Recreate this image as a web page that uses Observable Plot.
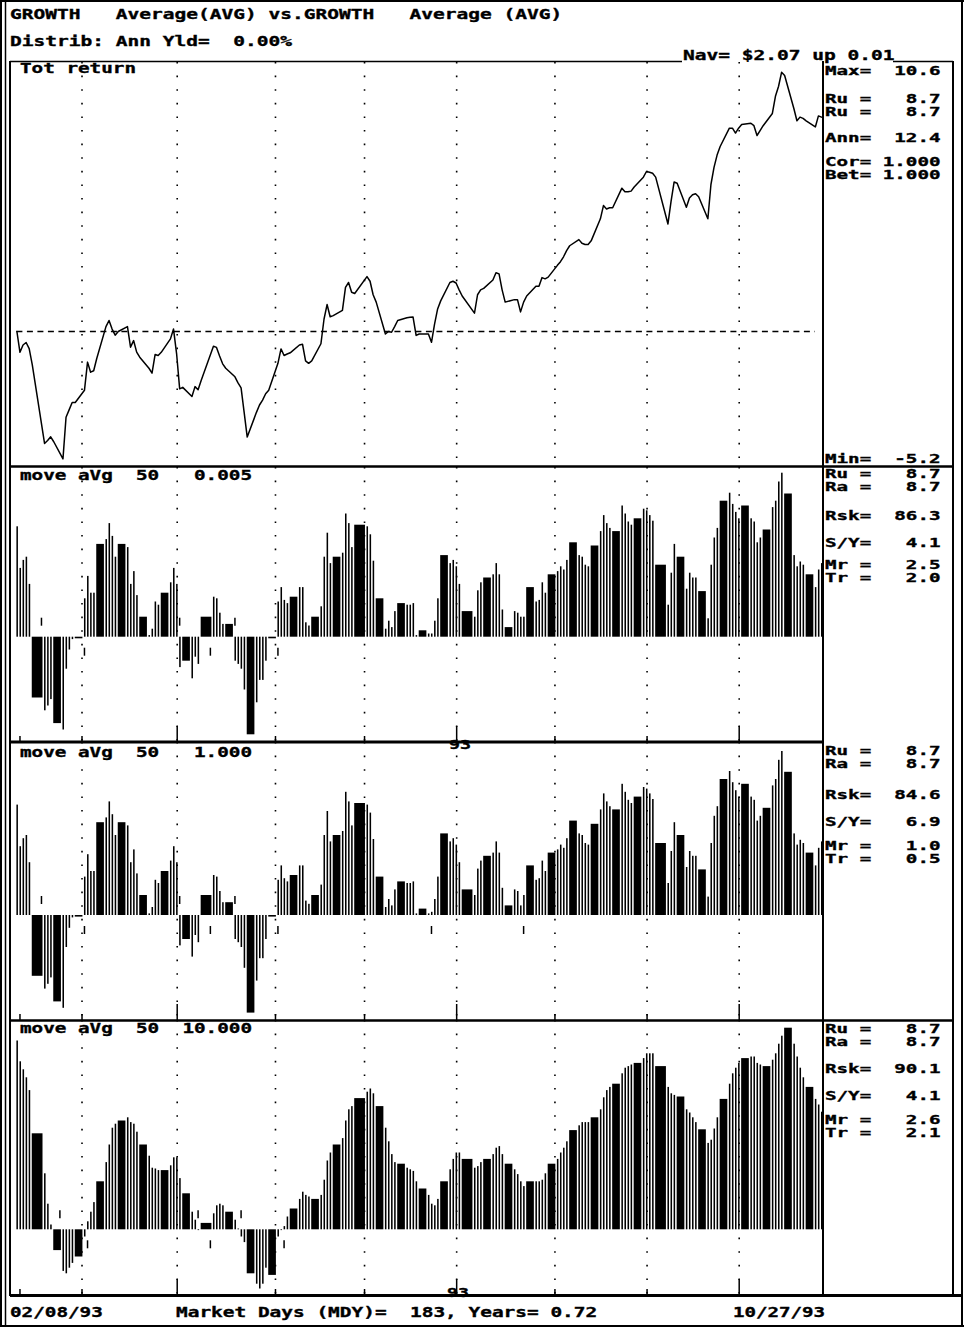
<!DOCTYPE html>
<html><head><meta charset="utf-8">
<script src="https://cdn.jsdelivr.net/npm/d3@7"></script>
<script src="https://cdn.jsdelivr.net/npm/@observablehq/plot@0.6"></script>
<style>
body{margin:0;background:#fff;}
#page{position:relative;width:964px;height:1327px;overflow:hidden;background:#fff;}
#page svg{position:absolute;margin:0;}
</style></head><body><div id="page"></div>
<script>
// ---------------- DATA ----------------
// Calendar: start value at the axis origin, then every NYSE market day 02/08/93 .. 10/27/93 (183 days)
const baseDate = "1993-02-07";
const firstDay = "1993-02-08";
const lastDay = "1993-10-27";
const holidays = ["1993-02-15", "1993-04-09", "1993-05-31", "1993-07-05", "1993-09-06"];

// Tot return (%), one value per market day (first = start value)
const totReturn = [0.0,
 -0.85,-0.55,-0.45,-0.7,-1.35,
 -4.57,-4.45,-4.3,-4.5,
 -5.2,-3.5,-3.2,-2.9,-2.9,
 -2.4,-1.25,-1.66,-1.6,-1.1,
 0.2,0.45,0.1,-0.15,0.0,
 0.2,-0.64,-0.37,-0.84,-1.05,
 -1.5,-1.7,-0.94,-0.98,-0.85,
 -0.3,0.1,-0.9,-2.34,-2.28,
 -2.65,-2.25,-2.38,-2.0,
 -0.6,-0.65,-1.0,-1.32,-1.5,
 -1.85,-2.1,-2.3,-3.3,-4.31,
 -3.3,-3.0,-2.8,-2.54,-2.4,
 -1.3,-0.71,-0.98,-0.92,-0.87,
 -0.55,-0.52,-1.2,-1.3,-1.2,
 -0.5,0.5,1.1,0.6,0.65,
 0.86,1.8,2.0,1.6,1.55,
 2.24,2.05,1.5,1.2,
 -0.1,0.0,-0.03,0.2,0.45,
 0.56,0.58,0.59,-0.16,-0.1,
 -0.1,-0.44,0.3,0.92,1.25,
 2.0,2.05,1.98,1.7,1.45,
 0.75,1.5,1.7,1.76,
 2.1,2.4,2.35,1.7,1.2,
 1.3,1.3,0.8,1.2,1.45,
 1.85,1.85,2.2,2.15,2.22,
 2.7,2.85,3.05,3.3,3.5,
 3.75,3.6,3.55,3.55,3.7,
 4.6,5.14,5.0,5.05,5.05,
 5.85,5.7,5.7,5.73,5.9,
 6.3,6.53,6.5,6.46,6.3,
 4.39,5.3,6.1,6.05,
 5.07,5.45,5.58,5.62,5.5,
 4.6,6.0,6.7,7.2,7.55,
 8.3,8.3,8.1,8.3,8.45,
 8.5,8.4,8.0,8.2,8.4,
 8.9,9.6,10.0,10.58,10.45,
 9.1,8.6,8.75,8.7,8.6,
 8.35,8.8,8.75];

// move aVg 50  0.005
const avg0005 = [6.9,
 4.3,4.8,5.0,3.3,-3.8,
 -4.6,-4.3,-3.9,-5.4,
 -5.8,-2.0,-0.8,-0.15,-0.1,
 2.4,3.8,2.75,2.75,5.8,
 6.1,7.1,6.3,5.0,5.8,
 5.6,3.3,4.1,2.6,1.25,
 0.1,0.5,2.2,2.0,2.75,
 3.4,4.3,3.3,-1.9,-1.5,
 -2.6,-1.25,-1.7,1.25,
 2.5,2.4,1.5,0.8,0.8,
 -1.5,-1.7,-2.0,-3.3,-6.1,
 -4.1,-2.7,-2.7,-1.5,-0.1,
 2.2,3.1,2.3,2.1,2.5,
 3.1,3.1,0.9,0.7,1.25,
 1.9,5.0,6.5,4.6,5.0,
 5.25,7.7,7.1,5.6,7.0,
 6.9,6.4,4.75,2.4,
 0.5,1.0,0.6,1.6,2.1,
 2.0,2.0,2.1,0.1,0.4,
 0.2,0.2,1.0,2.4,5.1,
 4.6,4.8,4.4,3.3,1.6,
 1.25,2.9,3.4,3.7,
 3.9,4.6,3.9,1.7,0.6,
 1.6,1.5,1.25,1.25,3.1,
 2.2,2.3,3.4,2.75,3.9,
 4.1,4.4,4.2,4.8,5.9,
 5.1,5.0,4.5,4.4,5.7,
 6.6,7.6,7.1,6.8,6.6,
 8.2,7.7,7.2,7.0,7.4,
 8.0,7.9,7.6,7.25,4.5,
 2.0,4.0,5.8,5.0,
 3.0,4.0,3.7,3.7,2.85,
 1.15,4.5,6.2,6.8,8.5,
 9.0,8.3,7.8,7.4,8.2,
 7.4,7.2,5.9,6.2,6.7,
 8.1,8.5,9.7,10.25,8.95,
 5.1,4.4,4.7,4.5,3.9,
 3.1,4.2,4.6];

// move aVg 50  1.000
const avg1000 = [6.9,
 4.3,4.8,5.0,3.3,-3.8,
 -4.6,-4.3,-3.9,-5.4,
 -5.8,-2.0,-0.8,-0.15,-0.1,
 2.4,3.8,2.75,2.75,5.8,
 6.1,7.1,6.3,5.0,5.8,
 5.6,3.3,4.1,2.6,1.25,
 0.1,0.5,2.2,2.0,2.75,
 3.4,4.3,3.3,-1.9,-1.5,
 -2.6,-1.25,-1.7,1.25,
 2.5,2.4,1.5,0.8,0.8,
 -1.5,-1.7,-2.0,-3.3,-6.1,
 -4.1,-2.7,-2.7,-1.5,-0.1,
 2.2,3.1,2.3,2.1,2.5,
 3.1,3.1,0.9,0.7,1.25,
 1.9,5.0,6.5,4.6,5.0,
 5.25,7.7,7.1,5.6,7.0,
 6.9,6.4,4.75,2.4,
 0.5,1.0,0.6,1.6,2.1,
 2.0,2.0,2.1,0.1,0.4,
 0.1,0.2,1.0,2.4,5.1,
 4.6,4.8,4.4,3.3,1.6,
 1.25,2.9,3.4,3.7,
 3.9,4.6,3.9,1.7,0.6,
 1.6,1.5,0.6,1.25,3.1,
 2.2,2.3,3.4,2.75,3.9,
 4.1,4.4,4.2,4.8,5.9,
 5.1,5.0,4.5,4.4,5.7,
 6.6,7.6,7.1,6.8,6.6,
 8.2,7.7,7.2,7.0,7.4,
 8.0,7.9,7.6,7.25,4.5,
 2.0,4.0,5.8,5.0,
 3.0,4.0,3.7,3.7,2.85,
 1.15,4.5,6.2,6.8,8.5,
 9.0,8.3,7.8,7.4,8.2,
 7.4,7.2,5.9,6.2,6.7,
 8.1,8.5,9.7,10.25,8.95,
 5.1,4.4,4.7,4.5,3.9,
 3.1,4.2,4.6];

// move aVg 50  10.000
const avg10000 = [11.8,
 10.5,10.0,9.5,8.7,6.0,
 3.5,1.6,0.3,-1.3,
 -2.6,-2.75,-2.4,-2.1,-1.7,
 -0.45,0.5,1.1,1.7,3.0,
 4.2,5.3,6.35,6.6,6.8,
 7.0,6.7,6.6,6.1,5.3,
 4.6,3.85,3.8,3.7,3.7,
 4.0,4.5,4.5,3.2,2.25,
 1.1,0.6,-0.05,0.4,
 1.0,1.5,1.6,1.5,1.1,
 0.6,0.05,-0.45,-0.8,-2.75,
 -3.4,-3.7,-3.4,-2.4,-2.85,
 -0.45,-0.05,0.2,0.8,1.3,
 1.9,2.35,2.15,2.05,1.9,
 2.15,3.1,4.3,4.8,5.3,
 5.7,6.8,7.5,7.7,8.2,
 8.6,8.8,8.5,7.7,
 6.35,5.5,4.7,4.2,4.1,
 3.85,3.75,3.65,3.0,2.55,
 2.15,1.6,1.5,1.9,3.0,
 3.75,4.4,4.8,4.8,4.4,
 3.85,3.95,4.2,4.4,
 4.7,5.1,5.2,4.7,4.1,
 3.75,3.45,3.0,2.7,3.0,
 3.0,3.0,3.1,3.5,4.1,
 4.4,4.8,5.1,5.5,6.2,
 6.5,6.7,6.7,6.7,7.0,
 7.5,8.25,8.7,8.9,9.1,
 9.75,10.1,10.2,10.3,10.4,
 10.7,11.0,11.0,11.0,10.2,
 8.9,8.5,8.4,8.3,
 7.5,7.3,7.0,6.7,6.25,
 5.4,5.6,6.3,7.0,8.15,
 9.1,9.75,10.1,10.4,10.7,
 10.8,10.8,10.4,10.3,10.2,
 10.6,11.0,11.6,12.1,12.6,
 11.6,10.8,10.1,9.5,8.9,
 8.15,7.8,7.35];

// Crossing signals marked with a short tick (sell = above zero, buy = below zero)
const signals0005 = [["1993-02-15", "sell"], ["1993-03-01", "buy"], ["1993-04-01", "sell"], ["1993-04-11", "buy"], ["1993-04-19", "sell"], ["1993-05-03", "buy"]];
const signals1000 = [["1993-02-15", "sell"], ["1993-03-01", "buy"], ["1993-04-01", "sell"], ["1993-04-11", "buy"], ["1993-04-19", "sell"], ["1993-05-03", "buy"], ["1993-06-22", "buy"], ["1993-07-22", "buy"]];
const signals10000 = [["1993-02-21", "sell"], ["1993-03-02", "buy"], ["1993-04-07", "sell"], ["1993-04-11", "buy"], ["1993-04-21", "sell"], ["1993-05-05", "buy"]];

// Text content
const headerLine1 = "GROWTH   Average(AVG) vs.GROWTH   Average (AVG)";
const headerLine2 = "Distrib: Ann Yld=  0.00%";
const navText = "Nav= $2.07 up 0.01";
const panelTitles = ["Tot return", "move aVg  50   0.005", "move aVg  50   1.000", "move aVg  50  10.000"];
const stats1 = ["Max=  10.6", "Ru =   8.7", "Ru =   8.7", "Ann=  12.4", "Cor= 1.000", "Bet= 1.000", "Min=  -5.2"];
const stats2 = ["Ru =   8.7", "Ra =   8.7", "Rsk=  86.3", "S/Y=   4.1", "Mr =   2.5", "Tr =   2.0"];
const stats3 = ["Ru =   8.7", "Ra =   8.7", "Rsk=  84.6", "S/Y=   6.9", "Mr =   1.0", "Tr =   0.5"];
const stats4 = ["Ru =   8.7", "Ra =   8.7", "Rsk=  90.1", "S/Y=   4.1", "Mr =   2.6", "Tr =   2.1"];
const footerLeft = "02/08/93";
const footerMid = "Market Days (MDY)=  183, Years= 0.72";
const footerRight = "10/27/93";

// ---------------- BUILD ----------------
const DAY = 864e5;
const parse = s => new Date(s + "T00:00:00Z");
const hol = new Set(holidays);
const days = [parse(baseDate)];
for (let t = +parse(firstDay); t <= +parse(lastDay); t += DAY) {
  const d = new Date(t), wd = d.getUTCDay();
  if (wd === 0 || wd === 6 || hol.has(d.toISOString().slice(0, 10))) continue;
  days.push(d);
}
const xDomain = [parse(baseDate), parse(lastDay)];
const xRange = [16.4, 821];
// grid at the first market day of each month (drawn just before that day's bar)
const firstOfMonth = [];
for (let i = 2; i < days.length; i++) if (days[i].getUTCMonth() !== days[i - 1].getUTCMonth()) firstOfMonth.push(new Date(+days[i] - 0.8 * DAY));
const quarterStarts = firstOfMonth.filter(d => (d.getUTCMonth() + (d.getUTCDate() > 20 ? 1 : 0)) % 3 === 0);
const otherTicks = [days[1], ...firstOfMonth.filter(d => !quarterStarts.includes(d))];

const page = document.getElementById("page");
function place(svg, top) { svg.style.left = "0px"; svg.style.top = top + "px"; page.appendChild(svg); }

const grid = Plot.ruleX(firstOfMonth, {stroke: "#000", strokeWidth: 1.6, strokeDasharray: "1.6 12"});

// Panel 1: total return line
{
  const top = 62, height = 405, zero = 269, unit = 24.5;
  const rows = days.map((d, i) => ({date: d, v: totReturn[i]}));
  const svg = Plot.plot({
    width: 823, height, margin: 0,
    x: {type: "utc", domain: xDomain, range: xRange, axis: null},
    y: {domain: [-(height - zero) / unit, zero / unit], range: [height, 0], axis: null},
    marks: [
      grid,
      Plot.ruleY([{y: 0, a: xDomain[0], b: parse("1993-10-25")}], {y: "y", x1: "a", x2: "b", stroke: "#000", strokeWidth: 1.5, strokeDasharray: "6 4.5"}),
      Plot.lineY(rows, {x: "date", y: "v", stroke: "#000", strokeWidth: 1.5, curve: "linear"})
    ]
  });
  place(svg, top);
}

// Bar panels
function barPanel(values, signals, top, height, zero, unit) {
  const rows = days.map((d, i) => ({
    x1: d,
    x2: new Date((i + 1 < days.length ? +days[i + 1] : +d + DAY) - DAY / 2),
    v: values[i]
  }));
  const sig = signals.map(([d, kind]) => ({x: parse(d), a: (kind === "sell" ? 1 : -1) * 11 / unit, b: (kind === "sell" ? 1 : -1) * 19 / unit}));
  const yMin = -(height - zero) / unit;
  const svg = Plot.plot({
    width: 823, height, margin: 0,
    x: {type: "utc", domain: xDomain, range: xRange, axis: null},
    y: {domain: [yMin, zero / unit], range: [height, 0], axis: null},
    marks: [
      grid,
      Plot.rect(rows, {x1: "x1", x2: "x2", y1: 0, y2: "v", fill: "#000"}),
      Plot.ruleX(sig, {x: "x", y1: "a", y2: "b", stroke: "#000", strokeWidth: 1.5}),
      Plot.ruleX(otherTicks, {y1: yMin, y2: yMin + 6 / unit, stroke: "#000", strokeWidth: 1.5}),
      Plot.ruleX(quarterStarts, {y1: yMin, y2: yMin + 16 / unit, stroke: "#000", strokeWidth: 1.5})
    ]
  });
  place(svg, top);
}
barPanel(avg0005, signals0005, 467, 275, 169.7, 16);
barPanel(avg1000, signals1000, 742, 278, 173, 16);
barPanel(avg10000, signals10000, 1020, 275, 209.3, 16);

// ---------------- OVERLAY: frame and texts ----------------
const ov = d3.select(page).append("svg").attr("width", 964).attr("height", 1327)
  .style("left", "0px").style("top", "0px").style("pointer-events", "none");
const L = (x1, y1, x2, y2, w = 1.5) => ov.append("line").attr("x1", x1).attr("y1", y1).attr("x2", x2).attr("y2", y2)
  .attr("stroke", "#000").attr("stroke-width", w);
// page border
L(0, 1, 964, 1, 2); L(1, 0, 1, 1327, 2); L(962, 0, 962, 1327, 2); L(0, 1326, 964, 1326, 2);
// left double frame
L(5.5, 0, 5.5, 1327, 1.5); L(10, 61, 10, 1296, 2);
// header rule and stats box
L(10, 61.5, 682, 61.5, 1.5); L(893, 61.5, 953, 61.5, 1.5);
L(823, 61, 823, 1296, 2); L(953, 61, 953, 1296, 2);
// panel separators
L(10, 466.5, 953, 466.5, 2.5); L(10, 742, 823, 742, 3); L(10, 1020.5, 953, 1020.5, 2.5); L(10, 1295.5, 962, 1295.5, 3);

function T(str, x, y, cw = 11.75, fs = 14) {
  ov.append("text").attr("x", x).attr("y", y).text(str)
    .attr("font-family", "'DejaVu Sans Mono', 'Liberation Mono', monospace")
    .attr("font-weight", "bold").attr("font-size", fs)
    .attr("textLength", str.length * cw).attr("lengthAdjust", "spacingAndGlyphs")
    .attr("stroke", "#000").attr("stroke-width", 0.35)
    .style("white-space", "pre").attr("fill", "#000");
}
T(headerLine1, 10, 19);
T(headerLine2, 10, 46);
T(navText, 683, 60);
T(panelTitles[0], 20, 73, 11.6);
T(panelTitles[1], 20, 480, 11.6);
T(panelTitles[2], 20, 757, 11.6);
T(panelTitles[3], 20, 1033, 11.6);
const sx = 825, scw = 11.55, sfs = 12.5;
[75, 103, 116, 142, 166, 179, 463].forEach((y, i) => T(stats1[i], sx, y, scw, sfs));
[478, 491, 520, 547, 569, 582].forEach((y, i) => T(stats2[i], sx, y, scw, sfs));
[755, 768, 799, 826, 850, 863].forEach((y, i) => T(stats3[i], sx, y, scw, sfs));
[1033, 1046, 1073, 1100, 1124, 1137].forEach((y, i) => T(stats4[i], sx, y, scw, sfs));
T(footerLeft, 10, 1317, 11.6);
T(footerMid, 176, 1317, 11.7);
T(footerRight, 733, 1317, 11.5);
T("93", 447, 1297, 11, 13);
T("93", 449, 749, 11, 13);
if (days.length !== 184) console.error("market day count", days.length);
</script></body></html>
